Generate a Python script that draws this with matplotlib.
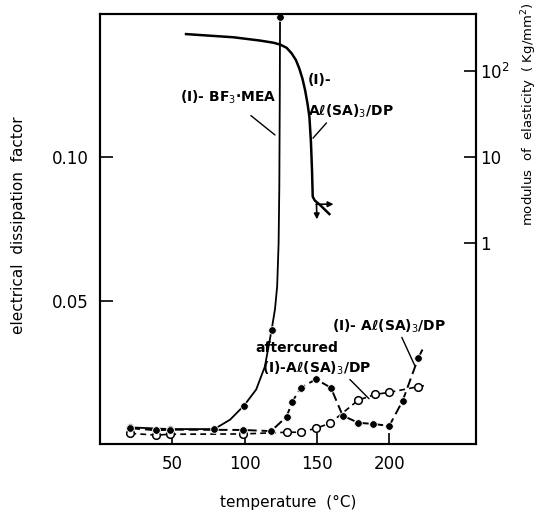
import numpy as np
import matplotlib
matplotlib.use("Agg")
import matplotlib.pyplot as plt

# ── data ────────────────────────────────────────────────────────────────────
# (I)-BF3·MEA : measured points and the traced curve through them
bf3_temp = [21, 39, 48.5, 79, 99.6, 118.7, 124.5]
bf3_df = [0.0060, 0.0050, 0.0052, 0.0052, 0.0134, 0.0399, 0.149]
bf3_curve_temp = [21, 48.5, 79, 90, 99.6, 108, 114, 118.7, 121, 122.5, 123.5, 124, 124.3, 124.5]
bf3_curve_df = [0.0058, 0.0052, 0.0052, 0.0085, 0.0134, 0.019, 0.027, 0.0399,
                0.047, 0.055, 0.070, 0.090, 0.120, 0.149]

# (I)-Al(SA)3/DP
al_temp = [21, 39, 48.5, 98.7, 118.3, 129, 133, 138.8, 149.4, 159.7, 167.8,
           178.6, 189, 200, 209.3, 220]
al_df = [0.0055, 0.0048, 0.0050, 0.0049, 0.0045, 0.0095, 0.0148, 0.0196, 0.0226,
         0.0196, 0.0099, 0.0074, 0.0070, 0.0063, 0.0151, 0.0299]
al_tail_temp = [220, 224]
al_tail_df = [0.0299, 0.0340]

# aftercured (I)-Al(SA)3/DP
ac_temp = [21, 39, 48.4, 98.7, 129, 138.8, 149.4, 159, 178.6, 190.2, 200, 220]
ac_df = [0.0037, 0.0031, 0.0034, 0.0035, 0.0041, 0.0041, 0.0055, 0.0072,
         0.0153, 0.0173, 0.0180, 0.0200]
ac_tail_temp = [220, 226]
ac_tail_df = [0.0200, 0.0205]

# modulus of elasticity of (I)-Al(SA)3/DP  (Kg/mm^2, log axis)
mod_temp = [59.5, 92.2, 110.6, 120, 124.5, 129, 132.5, 135.5, 137.8, 140, 141.8,
            143.5, 144.8, 145.9, 146.6, 147.1, 148.5, 152.1, 158.6]
mod_val = [271, 249, 228, 215, 205, 188, 162, 135, 108, 82, 60.7,
           42, 29.7, 14.6, 7.1, 3.49, 3.15, 2.80, 2.19]

x_ticks = [50, 100, 150, 200]
y_ticks = [0.05, 0.10]
y_ticklabels = ["0.05", "0.10"]
mod_ticks = [1, 10, 100]
mod_ticklabels = ["1", "10", "10$^2$"]

# ── figure ──────────────────────────────────────────────────────────────────
fig = plt.figure(figsize=(5.41, 5.25), dpi=100)
ax = fig.add_axes([100 / 541, 1 - 444 / 525, 376 / 541, 430 / 525])
ax2 = ax.twinx()

ax.set_xlim(0, 260)
ax.set_ylim(0, 0.15)
# right axis: one decade ~ 0.03 of the left scale, 10 level with 0.10
ax2.set_yscale("log")
ax2.set_ylim(10 ** (1 - 0.10 / 0.03), 10 ** (1 + 0.05 / 0.03))

# BF3 curve
ax.plot(bf3_curve_temp, bf3_curve_df, color="black", lw=1.3, zorder=3)
ax.plot(bf3_temp, bf3_df, "o", color="black", ms=5.5, mec="white", mew=0.6, zorder=5)

# Al(SA)3/DP
ax.plot(al_temp, al_df, color="black", lw=1.4, dashes=(5, 2.5), zorder=3)
ax.plot(al_tail_temp, al_tail_df, color="black", lw=1.4, dashes=(5, 2.5), zorder=3)
ax.plot(al_temp, al_df, "o", color="black", ms=5.5, mec="white", mew=0.6, zorder=5)

# aftercured
ax.plot(ac_temp, ac_df, color="black", lw=1.2, dashes=(3.5, 2.5), zorder=2)
ax.plot(ac_tail_temp, ac_tail_df, color="black", lw=1.2, dashes=(3.5, 2.5), zorder=2)
ax.plot(ac_temp, ac_df, "o", mfc="white", mec="black", ms=5.5, mew=1.1, zorder=4)

# modulus curve with the end arrows
ax2.plot(mod_temp, mod_val, color="black", lw=1.8, zorder=3, solid_joinstyle="round")
ax2.annotate("", xy=(161.5, 2.85), xytext=(149.5, 2.85),
             arrowprops=dict(arrowstyle="-|>", color="black", lw=1.2,
                             mutation_scale=8, shrinkA=0, shrinkB=0))
ax2.annotate("", xy=(150, 1.9), xytext=(149.7, 2.85),
             arrowprops=dict(arrowstyle="-|>", color="black", lw=1.2,
                             mutation_scale=8, shrinkA=0, shrinkB=0))

# ── annotations ─────────────────────────────────────────────────────────────
tkw = dict(fontsize=10, fontweight="bold", color="black")
akw = dict(arrowstyle="-", color="black", lw=1.0)
ax.annotate("(I)- BF$_3$·MEA", xy=(121, 0.1078), xytext=(88.5, 0.121),
            ha="center", va="center", arrowprops=dict(akw, shrinkA=8, shrinkB=0), **tkw)
ax.text(143.5, 0.127, "(I)-", ha="left", va="center", **tkw)
ax.annotate("Aℓ(SA)$_3$/DP", xy=(147.3, 0.1067), xytext=(143.5, 0.116),
            ha="left", va="center", arrowprops=dict(akw, shrinkA=0, shrinkB=0,
                                                     relpos=(0.25, 0)), **tkw)
ax.text(136, 0.0335, "aftercured", ha="center", va="center", **tkw)
ax.annotate("(I)-Aℓ(SA)$_3$/DP", xy=(186, 0.0158), xytext=(112, 0.0265),
            ha="left", va="center", arrowprops=dict(akw, shrinkA=0, shrinkB=0,
                                                     relpos=(0.78, 0)), **tkw)
ax.annotate("(I)- Aℓ(SA)$_3$/DP", xy=(217.8, 0.0272), xytext=(160.5, 0.0412),
            ha="left", va="center", arrowprops=dict(akw, shrinkA=0, shrinkB=0,
                                                     relpos=(0.6, 0)), **tkw)

# ── axes styling ────────────────────────────────────────────────────────────
for a in (ax, ax2):
    for s in a.spines.values():
        s.set_linewidth(1.5)

ax.set_xticks(x_ticks)
ax.set_xticklabels([str(t) for t in x_ticks])
ax.set_yticks(y_ticks)
ax.set_yticklabels(y_ticklabels)
ax.tick_params(axis="both", direction="in", length=9, width=1.2, labelsize=12, pad=8)
ax.tick_params(axis="x", length=8)

ax2.set_yticks(mod_ticks)
ax2.set_yticklabels(mod_ticklabels)
ax2.yaxis.set_minor_locator(matplotlib.ticker.NullLocator())
ax2.tick_params(axis="y", direction="in", length=9, width=1.2, labelsize=12, pad=3)

fig.text(19 / 541, 1 - 225 / 525, "electrical  dissipation  factor", rotation=90,
         ha="center", va="center", fontsize=11)
fig.text(529 / 541, 1 - 114 / 525, "modulus  of  elasticity  ( Kg/mm$^2$)", rotation=90,
         ha="center", va="center", fontsize=9.5)
fig.text(288 / 541, 1 - 502 / 525, "temperature  (°C)", ha="center", va="center",
         fontsize=11)

fig.savefig("out.png", dpi=100)
